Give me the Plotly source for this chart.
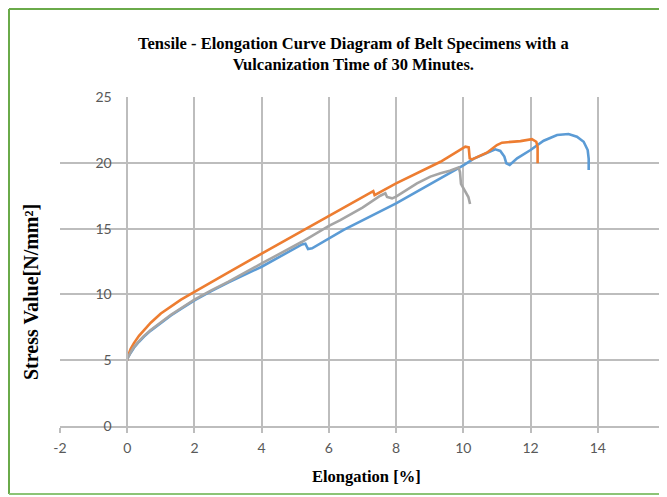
import plotly.graph_objects as go

# Specimen 1 (blue)
blue_x = [0, 0.02, 0.1, 0.2, 0.35, 0.5, 0.7, 1.0, 1.3, 1.6, 2.0, 2.5, 3.0, 4.0, 5.2, 5.3, 5.38, 5.5,
          6.0, 6.44, 8.0, 9.32, 10.0, 10.3, 10.95, 11.1, 11.22, 11.28, 11.38, 11.6, 12.0,
          12.39, 12.79, 13.13, 13.38, 13.58, 13.7, 13.73, 13.73]
blue_y = [5.0, 5.2, 5.55, 5.95, 6.4, 6.8, 7.25, 7.85, 8.4, 8.9, 9.55, 10.25, 10.9, 12.1, 13.8, 13.85, 13.45, 13.5,
          14.26, 14.9, 16.92, 18.82, 19.8, 20.3, 21.02, 20.9, 20.47, 19.96, 19.83, 20.34, 20.97,
          21.68, 22.11, 22.19, 21.98, 21.6, 20.97, 20.3, 19.45]

# Specimen 2 (orange)
orange_x = [0, 0.02, 0.1, 0.2, 0.35, 0.5, 0.7, 1.0, 1.3, 1.6, 2.0, 2.5, 3.0, 4.0, 5.0, 6.0, 7.0,
            7.28, 7.32, 7.36, 8.0, 9.32, 10.06, 10.16, 10.19, 10.26, 10.41, 10.7, 11.0,
            11.15, 11.7, 12.04, 12.17, 12.21, 12.21]
orange_y = [5.0, 5.3, 5.85, 6.3, 6.85, 7.3, 7.85, 8.55, 9.1, 9.6, 10.2, 10.95, 11.65, 13.1, 14.55, 15.95, 17.4,
            17.8, 17.85, 17.55, 18.44, 20.08, 21.22, 21.17, 20.34, 20.26, 20.42, 20.77, 21.35,
            21.53, 21.65, 21.8, 21.6, 21.2, 19.96]

# Specimen 3 (gray)
gray_x = [0, 0.02, 0.1, 0.2, 0.35, 0.5, 0.7, 1.0, 1.3, 1.6, 2.0, 2.5, 3.0, 4.0, 5.2, 6.0, 6.34, 7.0,
          7.53, 7.68, 7.73, 7.88, 8.0, 8.62, 9.02, 9.32, 9.6, 9.86, 9.9, 9.93, 10.05, 10.15, 10.2]
gray_y = [5.0, 5.2, 5.6, 6.0, 6.45, 6.85, 7.3, 7.9, 8.45, 8.95, 9.6, 10.3, 10.95, 12.35, 14.0, 15.2, 15.65, 16.6,
          17.5, 17.68, 17.4, 17.3, 17.43, 18.44, 18.95, 19.2, 19.4, 19.65, 19.3, 18.4, 17.8, 17.4, 16.87]

x_ticks = [-2, 0, 2, 4, 6, 8, 10, 12, 14, 16]
y_ticks = [0, 5, 10, 15, 20, 25]

title_text = "Tensile - Elongation Curve Diagram of Belt Specimens with a<br>Vulcanization Time of 30 Minutes."
x_title = "Elongation [%]"
y_title = "Stress Value[N/mm²]"

grid = "#bdbdbd"
tick_font = dict(family="Lato, Open Sans, sans-serif", size=14, color="#595959")
serif = "Liberation Serif, Times New Roman, serif"

# page body has an 8px margin: the figure is laid out 8px up/left of the reference pixels
OFF = 8
L, T, PW, PH = 60 - OFF, 97 - OFF, 606, 329
W, H = 667 - OFF, 497 - OFF
X_MAX = 16.03


def px(xr):
    return (xr - 60) / PW


def py(yr):
    return (426 - yr) / PH


fig = go.Figure()
for xs, ys, col in [(blue_x, blue_y, "#5B9BD5"), (orange_x, orange_y, "#ED7D31"), (gray_x, gray_y, "#A5A5A5")]:
    fig.add_trace(go.Scatter(x=xs, y=ys, mode="lines", line=dict(color=col, width=2.6),
                             showlegend=False, hoverinfo="skip"))

fig.update_layout(
    width=W, height=H,
    margin=dict(l=L, r=W - L - PW, t=T, b=H - T - PH),
    paper_bgcolor="white", plot_bgcolor="white",
    xaxis=dict(range=[-2, X_MAX], tickvals=x_ticks, ticktext=[str(v) for v in x_ticks],
               showgrid=True, gridcolor=grid, gridwidth=1.5,
               showline=True, linecolor=grid, linewidth=1.5,
               ticks="outside", ticklen=5, tickcolor=grid, tickwidth=1.5,
               tickfont=tick_font, zeroline=False, ticklabelstandoff=3),
    yaxis=dict(range=[0, 25], tickvals=y_ticks, ticktext=[str(v) for v in y_ticks],
               showgrid=True, gridcolor=grid, gridwidth=1.5,
               showline=True, linecolor=grid, linewidth=1.5,
               anchor="free", position=2 / (X_MAX + 2), ticks="", tickfont=tick_font,
               zeroline=False, ticklabelstandoff=12),
    annotations=[
        dict(text="<b>" + title_text + "</b>", xref="paper", yref="paper", x=px(353), y=py(54),
             xanchor="center", yanchor="middle", showarrow=False,
             font=dict(family=serif, size=16.5, color="black")),
        dict(text="<b>" + y_title + "</b>", xref="paper", yref="paper", x=px(31), y=py(292),
             xanchor="center", yanchor="middle", textangle=-90, showarrow=False,
             font=dict(family=serif, size=20, color="black")),
        dict(text="<b>" + x_title + "</b>", xref="paper", yref="paper", x=px(366), y=py(476),
             xanchor="center", yanchor="middle", showarrow=False,
             font=dict(family=serif, size=16.5, color="black")),
    ],
    shapes=[
        dict(type="line", xref="paper", yref="paper", x0=px(9), x1=px(9),
             y0=py(9), y1=py(494), line=dict(color="#6aaa4a", width=2)),
        dict(type="line", xref="paper", yref="paper", x0=px(9), x1=px(667),
             y0=py(9), y1=py(9), line=dict(color="#6aaa4a", width=2)),
        dict(type="line", xref="paper", yref="paper", x0=px(9), x1=px(667),
             y0=py(494), y1=py(494), line=dict(color="#8cc476", width=2)),
    ],
)

fig.write_html("out.html")
